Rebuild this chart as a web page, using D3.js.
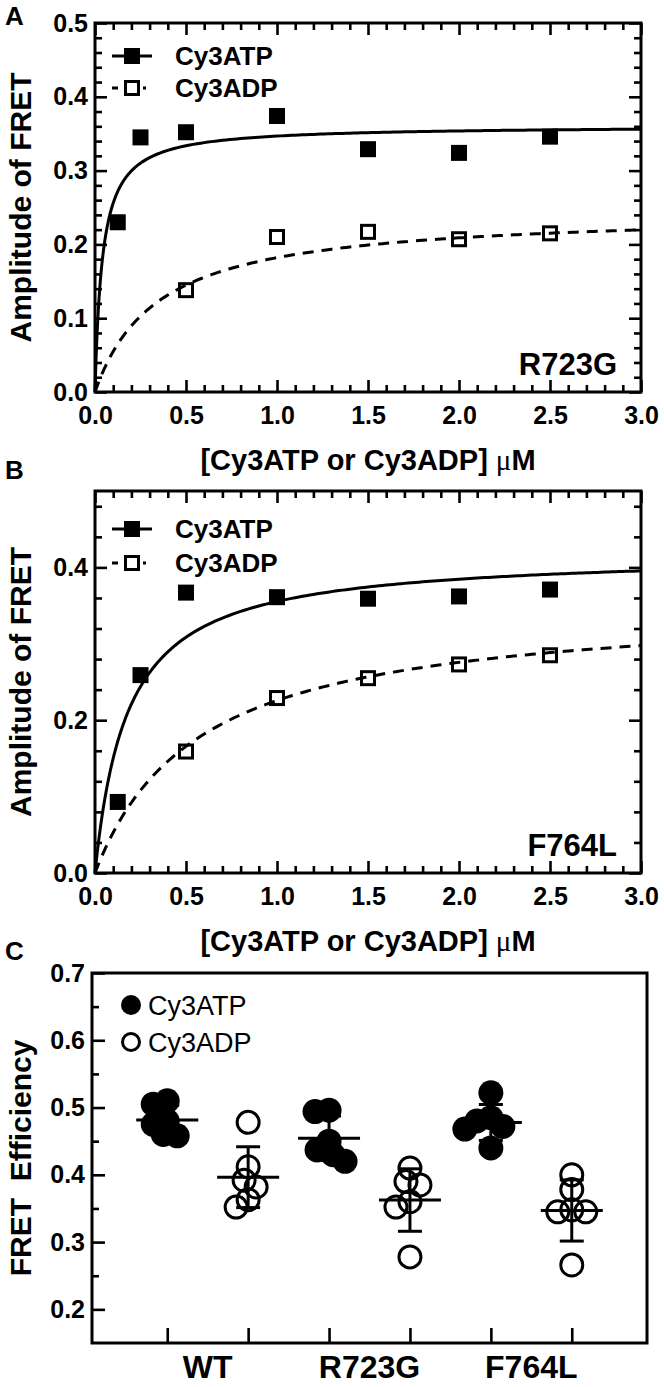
<!DOCTYPE html>
<html>
<head>
<meta charset="utf-8">
<script src="https://cdn.jsdelivr.net/npm/d3@7"></script>
<style>
  body { margin: 0; background: #fff; }
  svg { display: block; }
</style>
</head>
<body>
<svg id="fig" width="664" height="1387"></svg>
<script>
const FONT = "'Liberation Sans', Arial, Helvetica, sans-serif"

// ---- panels A & B: FRET amplitude vs nucleotide concentration (µM)
const atpConc = [0.125, 0.25, 0.5, 1.0, 1.5, 2.0, 2.5]
const adpConc = [0.5, 1.0, 1.5, 2.0, 2.5]

const r723gATP = [0.23, 0.345, 0.352, 0.374, 0.329, 0.324, 0.346]
const r723gADP = [0.138, 0.21, 0.217, 0.207, 0.215]
const f764lATP = [0.093, 0.259, 0.367, 0.361, 0.359, 0.362, 0.371]
const f764lADP = [0.159, 0.229, 0.255, 0.273, 0.285]

// hyperbolic fits, [Bmax, Kd]
const r723gFitATP = [0.361, 0.041]
const r723gFitADP = [0.245, 0.346]
const f764lFitATP = [0.419, 0.179]
const f764lFitADP = [0.354, 0.568]

// ---- panel C: FRET efficiency
const groups = ['WT', 'R723G', 'F764L']
const nucleotides = ['Cy3ATP', 'Cy3ADP']
const effWT_ATP = [0.51, 0.505, 0.48, 0.475, 0.46, 0.458]
const effWT_ADP = [0.478, 0.412, 0.392, 0.382, 0.363, 0.352]
const effR723G_ATP = [0.496, 0.494, 0.45, 0.437, 0.43, 0.42]
const effR723G_ADP = [0.41, 0.39, 0.385, 0.36, 0.352, 0.278]
const effF764L_ATP = [0.522, 0.485, 0.48, 0.472, 0.468, 0.44]
const effF764L_ADP = [0.40, 0.378, 0.348, 0.345, 0.345, 0.266]

const svg = d3.select('#fig').style('font-family', FONT)

function styleAxis(sel, size) {
	sel.select('.domain').remove()
	sel.attr('font-family', FONT).attr('font-size', size).attr('font-weight', 'bold')
	sel.selectAll('.tick line').attr('stroke', '#000').attr('stroke-width', 2.6)
	sel.selectAll('.tick text').attr('fill', '#000')
}

function panelLetter(letter, y) {
	svg.append('text')
		.attr('x', 5).attr('y', y)
		.attr('font-size', 26).attr('font-weight', 'bold')
		.text(letter)
}

function bindingPanel({ top, bottom, yMajor, yMinor, atp, adp, fitATP, fitADP, name, legendY }) {
	const x = d3.scaleLinear().domain([0, 3]).range([95, 641])
	const y = d3.scaleLinear().domain([0, 0.5]).range([bottom, top])
	const [x0, x1] = x.range()
	const g = svg.append('g')
	const fmt = d3.format('.1f')
	const xMajor = d3.range(0, 3.01, 0.5)
	const xMinor = d3.range(0, 3.01, 0.1).filter(v => Math.abs(v / 0.5 - Math.round(v / 0.5)) > 1e-6)

	// ticks point inside on all four sides
	g.append('g').attr('transform', `translate(${x0},0)`)
		.call(d3.axisLeft(y).tickValues(yMajor).tickSize(-12).tickPadding(7).tickFormat(fmt))
		.call(styleAxis, 25)
	g.append('g').attr('transform', `translate(${x0},0)`)
		.call(d3.axisLeft(y).tickValues(yMinor).tickSize(-7).tickFormat(''))
		.call(styleAxis, 25)
	g.append('g').attr('transform', `translate(${x1},0)`)
		.call(d3.axisRight(y).tickValues(yMajor).tickSize(-12).tickFormat(''))
		.call(styleAxis, 25)
	g.append('g').attr('transform', `translate(${x1},0)`)
		.call(d3.axisRight(y).tickValues(yMinor).tickSize(-7).tickFormat(''))
		.call(styleAxis, 25)
	g.append('g').attr('transform', `translate(0,${bottom})`)
		.call(d3.axisBottom(x).tickValues(xMajor).tickSize(-12).tickPadding(14).tickFormat(fmt))
		.call(styleAxis, 25)
	g.append('g').attr('transform', `translate(0,${bottom})`)
		.call(d3.axisBottom(x).tickValues(xMinor).tickSize(-7).tickFormat(''))
		.call(styleAxis, 25)
	g.append('g').attr('transform', `translate(0,${top})`)
		.call(d3.axisTop(x).tickValues(xMajor).tickSize(-12).tickFormat(''))
		.call(styleAxis, 25)
	g.append('g').attr('transform', `translate(0,${top})`)
		.call(d3.axisTop(x).tickValues(xMinor).tickSize(-7).tickFormat(''))
		.call(styleAxis, 25)

	g.append('rect')
		.attr('x', x0).attr('y', top)
		.attr('width', x1 - x0).attr('height', bottom - top)
		.attr('fill', 'none').attr('stroke', '#000').attr('stroke-width', 3)

	// fitted curves
	const xs = d3.range(0, 0.2, 0.002).concat(d3.range(0.2, 3.0001, 0.02))
	const line = fit => d3.line()
		.x(d => x(d))
		.y(d => y(fit[0] * d / (fit[1] + d)))
	g.append('path').datum(xs)
		.attr('d', line(fitATP))
		.attr('fill', 'none').attr('stroke', '#000').attr('stroke-width', 3)
	g.append('path').datum(xs)
		.attr('d', line(fitADP))
		.attr('fill', 'none').attr('stroke', '#000').attr('stroke-width', 3)
		.attr('stroke-dasharray', '11,8')

	// points
	const FS = 16, OS = 13
	g.selectAll('.atp').data(atp).join('rect')
		.attr('class', 'atp')
		.attr('x', (d, i) => x(atpConc[i]) - FS / 2)
		.attr('y', d => y(d) - FS / 2)
		.attr('width', FS).attr('height', FS)
		.attr('fill', '#000')
	g.selectAll('.adp').data(adp).join('rect')
		.attr('class', 'adp')
		.attr('x', (d, i) => x(adpConc[i]) - OS / 2)
		.attr('y', d => y(d) - OS / 2)
		.attr('width', OS).attr('height', OS)
		.attr('fill', 'none').attr('stroke', '#000').attr('stroke-width', 3)

	// legend
	const lg = g.append('g')
	const lx = 132
	lg.append('line')
		.attr('x1', lx - 20).attr('x2', lx + 20).attr('y1', legendY[0]).attr('y2', legendY[0])
		.attr('stroke', '#000').attr('stroke-width', 3)
	lg.append('rect')
		.attr('x', lx - FS / 2).attr('y', legendY[0] - FS / 2)
		.attr('width', FS).attr('height', FS).attr('fill', '#000')
	lg.append('line')
		.attr('x1', lx - 20).attr('x2', lx + 20).attr('y1', legendY[1]).attr('y2', legendY[1])
		.attr('stroke', '#000').attr('stroke-width', 3).attr('stroke-dasharray', '6,25,3')
	lg.append('rect')
		.attr('x', lx - OS / 2).attr('y', legendY[1] - OS / 2)
		.attr('width', OS).attr('height', OS)
		.attr('fill', 'none').attr('stroke', '#000').attr('stroke-width', 3)
	lg.selectAll('text').data(nucleotides).join('text')
		.attr('x', 175).attr('y', (d, i) => legendY[i])
		.attr('dy', '0.36em')
		.attr('font-size', 26).attr('font-weight', 'bold')
		.text(d => d)

	// mutant name
	g.append('text')
		.attr('x', 617).attr('y', bottom - 17)
		.attr('text-anchor', 'end')
		.attr('font-size', 31).attr('font-weight', 'bold')
		.text(name)

	// axis titles
	const xt = g.append('text')
		.attr('x', (x0 + x1) / 2).attr('y', bottom + 78)
		.attr('text-anchor', 'middle')
		.attr('font-size', 29).attr('font-weight', 'bold')
	xt.append('tspan').text('[Cy3ATP or Cy3ADP] ')
	xt.append('tspan').attr('font-weight', 'normal').attr('font-family', "'Liberation Serif', serif").text('\u03bc')
	xt.append('tspan').text('M')

	g.append('text')
		.attr('transform', `translate(31,${(top + bottom) / 2}) rotate(-90)`)
		.attr('text-anchor', 'middle')
		.attr('font-size', 30).attr('font-weight', 'bold')
		.text('Amplitude of FRET')
}

panelLetter('A', 25)
bindingPanel({
	top: 23, bottom: 392,
	yMajor: d3.range(0, 0.51, 0.1),
	yMinor: d3.range(0, 0.5, 0.02).filter(v => Math.abs(v * 10 - Math.round(v * 10)) > 1e-6),
	atp: r723gATP, adp: r723gADP, fitATP: r723gFitATP, fitADP: r723gFitADP,
	name: 'R723G', legendY: [56, 88]
})

panelLetter('B', 479)
bindingPanel({
	top: 491, bottom: 873,
	yMajor: [0, 0.2, 0.4],
	yMinor: d3.range(0.04, 0.5, 0.04).filter(v => Math.abs(v * 5 - Math.round(v * 5)) > 1e-6),
	atp: f764lATP, adp: f764lADP, fitATP: f764lFitATP, fitADP: f764lFitADP,
	name: 'F764L', legendY: [529, 563]
})

// ---- panel C
panelLetter('C', 960)
;(function efficiencyPanel() {
	const top = 973, bottom = 1343
	const keys = groups.flatMap(g => nucleotides.map(n => `${g} ${n}`))
	const x = d3.scalePoint().domain(keys).range([92, 647]).padding(0.93)
	const y = d3.scaleLinear().domain([0.15, 0.7]).range([bottom, top])
	const [x0, x1] = x.range()
	const g = svg.append('g')
	const values = [effWT_ATP, effWT_ADP, effR723G_ATP, effR723G_ADP, effF764L_ATP, effF764L_ADP]
	const R = 11

	g.append('g').attr('transform', `translate(${x0},0)`)
		.call(d3.axisLeft(y).tickValues(d3.range(0.2, 0.71, 0.1)).tickSize(-13).tickPadding(7).tickFormat(d3.format('.1f')))
		.call(styleAxis, 25)
	g.append('g').attr('transform', `translate(${x0},0)`)
		.call(d3.axisLeft(y).tickValues(d3.range(0.25, 0.7, 0.1)).tickSize(-7).tickFormat(''))
		.call(styleAxis, 25)
	g.append('g').attr('transform', `translate(0,${bottom})`)
		.call(d3.axisBottom(x).tickSize(-15).tickFormat(''))
		.call(styleAxis, 25)

	g.append('rect')
		.attr('x', x0).attr('y', top)
		.attr('width', x1 - x0).attr('height', bottom - top)
		.attr('fill', 'none').attr('stroke', '#000').attr('stroke-width', 3)

	// simple dodge so points sit side by side like a scatter dot plot
	function swarm(vals, cx) {
		const placed = []
		const minD = R * 1.25
		vals.forEach(v => {
			const py = y(v)
			for (let k = 0; k < 40; k++) {
				const dx = k === 0 ? 0 : (k % 2 ? -1 : 1) * Math.ceil(k / 2) * 2
				const ok = placed.every(p => Math.hypot(p.x - (cx + dx), p.y - py) >= minD)
				if (ok) { placed.push({ x: cx + dx, y: py, v }); break }
			}
		})
		return placed
	}

	keys.forEach((key, i) => {
		const vals = values[i]
		const cx = x(key)
		const filled = i % 2 === 0
		const pts = swarm(vals, cx)
		const gg = g.append('g')
		gg.selectAll('circle').data(pts).join('circle')
			.attr('cx', d => d.x).attr('cy', d => d.y)
			.attr('r', filled ? R + 1.5 : R)
			.attr('fill', filled ? '#000' : 'none')
			.attr('stroke', '#000').attr('stroke-width', filled ? 0 : 3)

		const m = d3.mean(vals), sd = d3.deviation(vals)
		gg.append('line')
			.attr('x1', cx).attr('x2', cx).attr('y1', y(m - sd)).attr('y2', y(m + sd))
			.attr('stroke', '#000').attr('stroke-width', 3)
		gg.append('line')
			.attr('x1', cx - 31).attr('x2', cx + 31).attr('y1', y(m)).attr('y2', y(m))
			.attr('stroke', '#000').attr('stroke-width', 3)
		gg.selectAll('.cap').data([m - sd, m + sd]).join('line')
			.attr('class', 'cap')
			.attr('x1', cx - 12).attr('x2', cx + 12).attr('y1', d => y(d)).attr('y2', d => y(d))
			.attr('stroke', '#000').attr('stroke-width', 3)
	})

	// group labels
	g.selectAll('.grp').data(groups).join('text')
		.attr('class', 'grp')
		.attr('x', d => (x(`${d} ${nucleotides[0]}`) + x(`${d} ${nucleotides[1]}`)) / 2)
		.attr('y', 1378)
		.attr('text-anchor', 'middle')
		.attr('font-size', 32).attr('font-weight', 'bold')
		.text(d => d)

	// legend
	const ly = [1005, 1042]
	g.append('circle').attr('cx', 131).attr('cy', ly[0]).attr('r', 10).attr('fill', '#000')
	g.append('circle').attr('cx', 131).attr('cy', ly[1]).attr('r', 8.5)
		.attr('fill', 'none').attr('stroke', '#000').attr('stroke-width', 3)
	g.selectAll('.leg').data(nucleotides).join('text')
		.attr('class', 'leg')
		.attr('x', 148).attr('y', (d, i) => ly[i])
		.attr('dy', '0.36em')
		.attr('font-size', 27)
		.text(d => d)

	g.append('text')
		.attr('transform', `translate(31,${(top + bottom) / 2}) rotate(-90)`)
		.attr('text-anchor', 'middle')
		.attr('font-size', 30).attr('font-weight', 'bold')
		.attr('xml:space', 'preserve')
		.style('white-space', 'pre')
		.text('FRET  Efficiency')
})()
</script>
</body>
</html>
